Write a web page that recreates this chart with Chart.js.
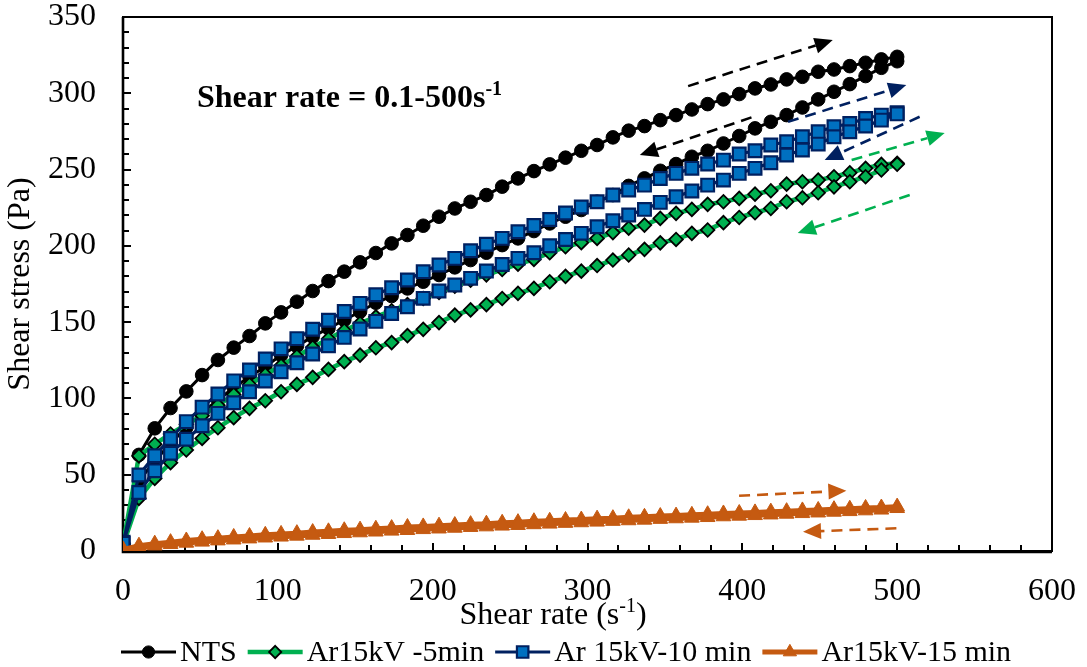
<!DOCTYPE html>
<html>
<head>
<meta charset="utf-8">
<title>Shear stress vs shear rate</title>
<script src="https://cdn.jsdelivr.net/npm/chart.js@4.4.1/dist/chart.umd.min.js"></script>
<style>
  html, body { margin: 0; padding: 0; background: #ffffff; }
  #wrap { width: 1087px; height: 667px; position: relative; }
</style>
</head>
<body>
<div id="wrap"><canvas id="chart" width="1087" height="667"></canvas></div>
<script>
// Shear rate steps of the ramp (s-1), ascending; the down ramp reuses them in reverse
const shearRate = [0.1, 10.3, 20.5, 30.7, 40.9, 51.1, 61.3, 71.5, 81.7, 91.9,
  102.1, 112.3, 122.5, 132.7, 142.9, 153.1, 163.3, 173.5, 183.7, 193.9,
  204.1, 214.3, 224.5, 234.7, 244.9, 255.1, 265.4, 275.6, 285.8, 296.0,
  306.2, 316.4, 326.6, 336.8, 347.0, 357.2, 367.4, 377.6, 387.8, 398.0,
  408.2, 418.4, 428.6, 438.8, 449.0, 459.2, 469.4, 479.6, 489.8, 500.0];

// Shear stress (Pa), up ramp and down ramp, each listed by ascending shear rate
const ntsUp = [4, 63, 80.4, 93.7, 104.6, 115.3, 125.2, 133.3, 140.9, 149.2,
  156.4, 163.4, 170.4, 176.9, 183.1, 189.2, 195.3, 201.6, 207.1, 213.2,
  219.1, 224.5, 228.9, 233.3, 238.8, 244.2, 249.0, 253.4, 257.8, 262.3,
  266.1, 271.1, 275.5, 278.5, 282.4, 285.7, 289.4, 292.9, 296.0, 299.5,
  303.2, 305.8, 309.1, 310.8, 314.1, 315.6, 317.8, 320.0, 322.2, 323.9];
const ntsDown = [4, 46, 59, 70.5, 81, 90.5, 99, 107, 114.2, 120.8,
  128.4, 134.3, 140.5, 145.9, 151.4, 156.8, 162.7, 167.1, 172.1, 176.5,
  180.9, 185.9, 190.7, 195.5, 200.5, 204.9, 209.7, 214.7, 219.1, 223.5,
  228.9, 233.3, 239.3, 244.2, 249.2, 253.6, 258.4, 262.3, 267.1, 272.0,
  277.0, 281.3, 285.7, 290.7, 296.0, 301.0, 306.0, 311.3, 316.7, 321.0];

const ar5Up = [5, 62.3, 70, 76.7, 83, 88.7, 95.5, 102.5, 109, 115.5,
  121.5, 127.5, 133.5, 139, 144.5, 149.2, 153.5, 157.5, 161.5, 165.5,
  169.5, 173.5, 177.5, 181, 184.5, 188, 191.1, 195.5, 199.4, 202.1,
  204.9, 208.7, 211.6, 213.6, 218.0, 221.3, 223.9, 227.2, 228.9, 231.1,
  233.9, 236.1, 240.5, 242.0, 243.1, 245.3, 247.9, 250.8, 253.4, 254.1];
const ar5Down = [4, 34.5, 47.6, 57.9, 66.2, 73.8, 80.8, 87.4, 93.5, 98.5,
  104.4, 109.2, 113.8, 119.0, 124.1, 128.4, 133.2, 136.6, 141.2, 145.3,
  149.7, 154.6, 158.0, 161.5, 165.5, 168.9, 172.1, 176.5, 180.0, 183.4,
  187.1, 190.7, 194.0, 197.7, 202.0, 204.2, 208.2, 210.4, 215.2, 218.6,
  221.7, 224.5, 228.9, 231.5, 234.8, 238.7, 242.0, 245.3, 249.7, 253.5];

const ar10Up = [5.7, 49.8, 62.5, 73.8, 84.8, 94.3, 102.9, 111.5, 118.6, 125.8,
  132.5, 139.2, 145.3, 151.2, 157.0, 162.3, 168.0, 172.6, 177.6, 183.1,
  187.4, 191.8, 196.8, 201.0, 204.9, 209.3, 213.3, 217.3, 221.5, 225.5,
  228.9, 233.3, 236.6, 239.8, 244.2, 247.5, 250.8, 253.6, 256.2, 260.2,
  262.3, 266.1, 268.2, 271.5, 274.8, 278.1, 280.2, 283.5, 285.7, 287.3];
const ar10Down = [5.0, 38.4, 52.6, 64.0, 73.2, 82.1, 90.2, 97.2, 104.4, 111.4,
  117.5, 123.4, 129.1, 134.5, 140.0, 145.5, 150.5, 155.7, 160.1, 165.6,
  170.4, 174.3, 178.7, 183.5, 187.8, 191.8, 195.5, 200.1, 204.2, 208.2,
  212.5, 216.5, 220.2, 223.9, 228.5, 232.2, 235.9, 239.8, 243.1, 247.5,
  250.8, 254.5, 259.5, 262.8, 266.7, 271.5, 274.8, 278.5, 282.4, 286.5];

const ar15Up = [1.0, 3.5, 4.8, 5.8, 6.9, 7.7, 8.4, 9.2, 9.8, 10.6,
  11.2, 11.7, 12.4, 12.9, 13.6, 14.0, 14.6, 15.0, 15.7, 16.1,
  16.6, 17.0, 17.6, 17.9, 18.5, 18.9, 19.5, 19.8, 20.3, 20.6,
  21.2, 21.5, 22.1, 22.4, 22.9, 23.2, 23.7, 24.1, 24.6, 24.9,
  25.3, 25.8, 26.1, 26.6, 26.9, 27.4, 27.7, 28.2, 28.5, 29.1];
const ar15Down = [0.5, 2.4, 3.5, 4.4, 5.3, 6.0, 6.8, 7.4, 8.1, 8.7,
  9.3, 9.9, 10.5, 11.0, 11.6, 12.1, 12.6, 13.2, 13.6, 14.2,
  14.6, 15.1, 15.6, 16.0, 16.5, 16.9, 17.4, 17.8, 18.3, 18.7,
  19.1, 19.6, 20.0, 20.4, 20.9, 21.3, 21.7, 22.1, 22.6, 23.0,
  23.4, 23.8, 24.3, 24.7, 25.1, 25.6, 26.0, 26.5, 27.0, 28.0];

const seriesNames = ['NTS', 'Ar15kV -5min', 'Ar 15kV-10 min', 'Ar15kV-15 min'];
const xTicks = [0, 100, 200, 300, 400, 500, 600];
const yTicks = [0, 50, 100, 150, 200, 250, 300, 350];

// Direction arrows [x1, y1, x2 (tip), y2 (tip)] in axis units
const arrowsNts = [[365, 304.7, 458.4, 334.9], [405.9, 284.2, 333.8, 259.5]];
const arrowsAr10 = [[429.5, 281.3, 505.9, 305.4], [514.5, 284.6, 453.2, 256.2]];
const arrowsAr5 = [[470.6, 256.2, 530.7, 273.9], [508.1, 233.3, 435.8, 208.4]];
const arrowsAr15 = [[397.9, 36.2, 467.2, 39.5], [499.5, 14.9, 439.2, 12.6]];

const FONT = "'Liberation Serif', 'Times New Roman', serif";
const COL = {
  black: '#000000',
  green: '#00B050',
  navy: '#002060',
  blue: '#0070C0',
  orange: '#C55A11'
};

// One loop per sample: up ramp then back down
function loop(up, down) {
  const pts = shearRate.map((x, i) => ({ x: x, y: up[i] }));
  for (let i = shearRate.length - 1; i >= 0; i--) {
    pts.push({ x: shearRate[i], y: down[i] });
  }
  return pts;
}

const styles = [
  { line: COL.black, lw: 3, point: 'circle', r: 6.8, fill: COL.black, edge: COL.black, ew: 1 },
  { line: COL.green, lw: 4.5, point: 'rectRot', r: 6.8, fill: COL.green, edge: '#000000', ew: 1.8 },
  { line: COL.navy, lw: 3.2, point: 'rect', r: 9, fill: COL.blue, edge: COL.navy, ew: 2.2 },
  { line: COL.orange, lw: 5, point: 'triangle', r: 8.5, fill: COL.orange, edge: COL.orange, ew: 1 }
];
const loops = [loop(ntsUp, ntsDown), loop(ar5Up, ar5Down), loop(ar10Up, ar10Down), loop(ar15Up, ar15Down)];

const datasets = loops.map((pts, k) => ({
  label: seriesNames[k],
  data: pts,
  showLine: true,
  borderColor: styles[k].line,
  borderWidth: styles[k].lw,
  pointStyle: styles[k].point,
  pointRadius: styles[k].r,
  pointHoverRadius: styles[k].r,
  pointBackgroundColor: styles[k].fill,
  pointBorderColor: styles[k].edge,
  pointBorderWidth: styles[k].ew,
  tension: 0,
  // later series sit on top of earlier ones
  order: 4 - k
}));

function marker(ctx, s, x, y) {
  ctx.save();
  ctx.fillStyle = s.fill;
  ctx.strokeStyle = s.edge;
  ctx.lineWidth = s.ew;
  ctx.beginPath();
  const r = s.r;
  if (s.point === 'circle') {
    ctx.arc(x, y, r, 0, Math.PI * 2);
  } else if (s.point === 'rectRot') {
    ctx.moveTo(x, y - r); ctx.lineTo(x + r, y); ctx.lineTo(x, y + r); ctx.lineTo(x - r, y);
    ctx.closePath();
  } else if (s.point === 'rect') {
    const h = r * Math.SQRT1_2;
    ctx.rect(x - h, y - h, 2 * h, 2 * h);
  } else {
    const a = Math.PI * 2 / 3;
    ctx.moveTo(x, y - r);
    ctx.lineTo(x + Math.sin(a) * r, y - Math.cos(a) * r);
    ctx.lineTo(x + Math.sin(2 * a) * r, y - Math.cos(2 * a) * r);
    ctx.closePath();
  }
  ctx.fill();
  ctx.stroke();
  ctx.restore();
}

// Frame, inward tick marks
const axesPlugin = {
  id: 'axesFrame',
  beforeDatasetsDraw(chart) {
    const { ctx, chartArea: a, scales } = chart;
    ctx.save();
    ctx.strokeStyle = '#000';
    ctx.lineWidth = 2;
    ctx.strokeRect(a.left, a.top, a.right - a.left, a.bottom - a.top);
    ctx.beginPath();
    for (let v = 0; v <= 350; v += 10) {
      const py = Math.round(scales.y.getPixelForValue(v));
      const len = v % 50 === 0 ? 8 : 6;
      ctx.moveTo(a.left, py); ctx.lineTo(a.left + len, py);
    }
    for (let v = 0; v <= 600; v += 20) {
      const px = Math.round(scales.x.getPixelForValue(v));
      const len = v % 100 === 0 ? 8 : 6;
      ctx.moveTo(px, a.bottom); ctx.lineTo(px, a.bottom - len);
    }
    ctx.stroke();
    ctx.lineWidth = 2.6;
    ctx.beginPath();
    ctx.moveTo(a.left, a.top); ctx.lineTo(a.left, a.bottom + 1); ctx.lineTo(a.right, a.bottom + 1);
    ctx.stroke();
    ctx.restore();
  }
};

function arrow(chart, seg, color) {
  const { ctx, scales } = chart;
  const x1 = scales.x.getPixelForValue(seg[0]);
  const y1 = scales.y.getPixelForValue(seg[1]);
  const x2 = scales.x.getPixelForValue(seg[2]);
  const y2 = scales.y.getPixelForValue(seg[3]);
  const ang = Math.atan2(y2 - y1, x2 - x1);
  const head = 18, half = 8;
  const bx = x2 - Math.cos(ang) * head;
  const by = y2 - Math.sin(ang) * head;
  ctx.save();
  ctx.strokeStyle = color;
  ctx.fillStyle = color;
  ctx.lineWidth = 2.6;
  ctx.setLineDash([11, 7]);
  ctx.beginPath();
  ctx.moveTo(x1, y1); ctx.lineTo(bx, by);
  ctx.stroke();
  ctx.setLineDash([]);
  ctx.beginPath();
  ctx.moveTo(x2, y2);
  ctx.lineTo(bx + Math.sin(ang) * half, by - Math.cos(ang) * half);
  ctx.lineTo(bx - Math.sin(ang) * half, by + Math.cos(ang) * half);
  ctx.closePath();
  ctx.fill();
  ctx.restore();
}

// Text with a raised "-1" exponent
function supText(ctx, parts, x, y, size, bold) {
  const w = bold ? 'bold ' : '';
  let cx = x;
  ctx.textBaseline = 'alphabetic';
  ctx.textAlign = 'left';
  parts.forEach(p => {
    const fs = p.sup ? Math.round(size * 0.62) : size;
    ctx.font = w + fs + 'px ' + FONT;
    ctx.fillText(p.t, cx, p.sup ? y - size * 0.38 : y);
    cx += ctx.measureText(p.t).width;
  });
  return cx - x;
}
function supWidth(ctx, parts, size, bold) {
  const w = bold ? 'bold ' : '';
  let tot = 0;
  parts.forEach(p => {
    const fs = p.sup ? Math.round(size * 0.62) : size;
    ctx.font = w + fs + 'px ' + FONT;
    tot += ctx.measureText(p.t).width;
  });
  return tot;
}

const overlayPlugin = {
  id: 'overlay',
  afterDatasetsDraw(chart) {
    arrowsNts.forEach(s => arrow(chart, s, COL.black));
    arrowsAr10.forEach(s => arrow(chart, s, COL.navy));
    arrowsAr5.forEach(s => arrow(chart, s, COL.green));
    arrowsAr15.forEach(s => arrow(chart, s, COL.orange));
  },
  afterDraw(chart) {
    const { ctx } = chart;
    ctx.save();
    ctx.fillStyle = '#000';
    // annotation inside the plot
    supText(ctx, [{ t: 'Shear rate = 0.1-500s' }, { t: '-1', sup: true }], 197, 107, 32, true);
    // x-axis title
    const xt = [{ t: 'Shear rate (s' }, { t: '-1', sup: true }, { t: ')' }];
    const tw = supWidth(ctx, xt, 32, false);
    supText(ctx, xt, 553 - tw / 2, 624, 32, false);
    // legend
    const fs = 30;
    let lx = 121;
    const ly = 652;
    seriesNames.forEach((name, k) => {
      const s = styles[k];
      ctx.save();
      ctx.strokeStyle = s.line;
      ctx.lineWidth = s.lw;
      ctx.beginPath();
      ctx.moveTo(lx, ly); ctx.lineTo(lx + 55, ly);
      ctx.stroke();
      ctx.restore();
      marker(ctx, Object.assign({}, s, { r: s.r * 0.9 }), lx + 27.5, ly);
      ctx.font = fs + 'px ' + FONT;
      ctx.fillStyle = '#000';
      ctx.textBaseline = 'middle';
      ctx.textAlign = 'left';
      ctx.fillText(name, lx + 59, ly + 1);
      lx += 59 + ctx.measureText(name).width + 11;
    });
    ctx.restore();
  }
};

new Chart(document.getElementById('chart'), {
  type: 'scatter',
  data: { datasets: datasets },
  options: {
    responsive: false,
    devicePixelRatio: 1,
    animation: false,
    layout: { padding: { top: 17, right: 35, bottom: 42, left: 0 } },
    plugins: {
      legend: { display: false },
      tooltip: { enabled: false }
    },
    scales: {
      x: {
        type: 'linear',
        min: 0,
        max: 600,
        afterBuildTicks: s => { s.ticks = xTicks.map(v => ({ value: v })); },
        ticks: { color: '#000', font: { family: FONT, size: 32 }, padding: 21, maxRotation: 0 },
        grid: { display: false, drawTicks: false },
        border: { display: false },
        afterFit: s => { s.height = 74; s.paddingLeft = 0; s.paddingRight = 0; }
      },
      y: {
        type: 'linear',
        min: 0,
        max: 350,
        afterBuildTicks: s => { s.ticks = yTicks.map(v => ({ value: v })); },
        ticks: { color: '#000', font: { family: FONT, size: 32 }, padding: 27 },
        grid: { display: false, drawTicks: false },
        border: { display: false },
        title: {
          display: true,
          text: 'Shear stress (Pa)',
          color: '#000',
          font: { family: FONT, size: 32 },
          padding: { top: 1, bottom: 0 }
        },
        afterFit: s => { s.width = 123; s.paddingTop = 0; s.paddingBottom = 0; }
      }
    }
  },
  plugins: [axesPlugin, overlayPlugin]
});
</script>
</body>
</html>
